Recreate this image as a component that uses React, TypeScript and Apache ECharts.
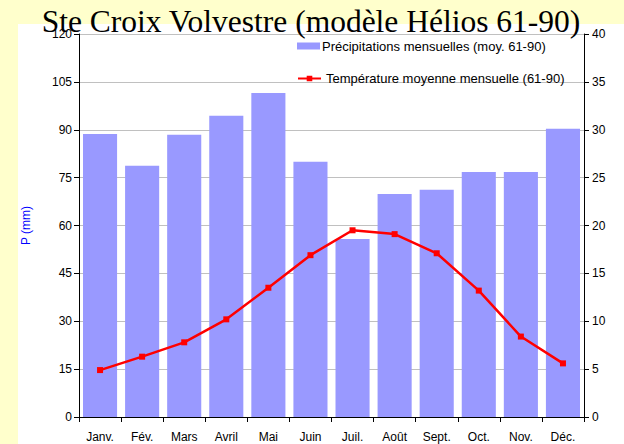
import React, { useEffect, useRef } from "react";
import * as echarts from "echarts";

const months = ["Janv.", "Fév.", "Mars", "Avril", "Mai", "Juin", "Juil.", "Août", "Sept.", "Oct.", "Nov.", "Déc."];
const precipitation = [88.7, 78.7, 88.4, 94.4, 101.5, 80.0, 55.8, 69.9, 71.2, 76.8, 76.8, 90.3];
const temperature = [4.9, 6.3, 7.8, 10.2, 13.5, 16.9, 19.5, 19.1, 17.1, 13.2, 8.4, 5.6];
const precipName = "Précipitations mensuelles (moy. 61-90)";
const tempName = "Température moyenne mensuelle (61-90)";
const titleText = "Ste Croix Volvestre (modèle Hélios 61-90)";

export default function App() {
  const ref = useRef<HTMLDivElement>(null);
  useEffect(() => {
    document.body.style.margin = "0";
    const chart = echarts.init(ref.current!, null, { renderer: "svg" });
    const font = "'Liberation Sans', Arial, sans-serif";
    chart.setOption({
      animation: false,
      backgroundColor: "#FFFFCC",
      graphic: [
        { type: "rect", shape: { x: 18, y: 24, width: 606, height: 420 }, style: { fill: "#FFFFFF" }, z: -10 },
        {
          type: "text",
          x: 311,
          y: 37.5,
          style: {
            text: titleText,
            fill: "#000",
            font: "31.5px 'Liberation Serif', 'Times New Roman', serif",
            textAlign: "center",
            textVerticalAlign: "bottom",
          },
          z: 100,
        },
      ],
      grid: { left: 79, right: 40, top: 34, bottom: 27, outerBoundsMode: "none", containLabel: false },
      legend: [
        {
          data: [{ name: precipName, icon: "rect" }],
          left: 297,
          top: 39.5,
          itemWidth: 23,
          itemHeight: 7,
          itemGap: 3,
          textStyle: { fontFamily: font, fontSize: 13, color: "#000", padding: [0, 0, 0, -3] },
          padding: 0,
        },
        {
          data: [{ name: tempName, itemStyle: { borderWidth: 0 } }],
          left: 297,
          top: 72,
          itemWidth: 23,
          itemHeight: 7,
          textStyle: { fontFamily: font, fontSize: 13, color: "#000", padding: [0, 0, 0, 0] },
          padding: 0,
        },
      ],
      xAxis: {
        type: "category",
        data: months,
        boundaryGap: true,
        axisLine: { lineStyle: { color: "#000", width: 1 } },
        axisTick: { show: true, alignWithLabel: false, length: 5, lineStyle: { color: "#000" } },
        axisLabel: { fontFamily: font, fontSize: 12, color: "#000", margin: 14 },
      },
      yAxis: [
        {
          type: "value",
          min: 0,
          max: 120,
          interval: 15,
          name: "P (mm)",
          nameLocation: "middle",
          nameGap: 47,
          nameTextStyle: { color: "#0000FF", fontFamily: font, fontSize: 12 },
          axisLine: { show: true, lineStyle: { color: "#000" } },
          axisTick: { show: true, length: 5, lineStyle: { color: "#000" } },
          axisLabel: { fontFamily: font, fontSize: 12, color: "#000", margin: 7 },
          splitLine: { show: true, lineStyle: { color: "#C0C0C0", width: 1 } },
        },
        {
          type: "value",
          min: 0,
          max: 40,
          interval: 5,
          name: "Tm (°C)",
          nameLocation: "middle",
          nameGap: 42,
          nameRotate: 90,
          nameTextStyle: { color: "#FF0000", fontFamily: font, fontSize: 12 },
          axisLine: { show: true, lineStyle: { color: "#000" } },
          axisTick: { show: true, length: 5, lineStyle: { color: "#000" } },
          axisLabel: { fontFamily: font, fontSize: 12, color: "#000", margin: 8 },
          splitLine: { show: false },
        },
      ],
      series: [
        {
          name: precipName,
          type: "bar",
          data: precipitation,
          yAxisIndex: 0,
          barCategoryGap: "19%",
          itemStyle: { color: "#9999FF" },
        },
        {
          name: tempName,
          type: "line",
          data: temperature,
          yAxisIndex: 1,
          symbol: "rect",
          symbolSize: 6,
          lineStyle: { color: "#FF0000", width: 2.5 },
          itemStyle: { color: "#FF0000" },
          z: 5,
        },
      ],
    });
    return () => chart.dispose();
  }, []);
  return <div ref={ref} style={{ width: 624, height: 444 }} />;
}
